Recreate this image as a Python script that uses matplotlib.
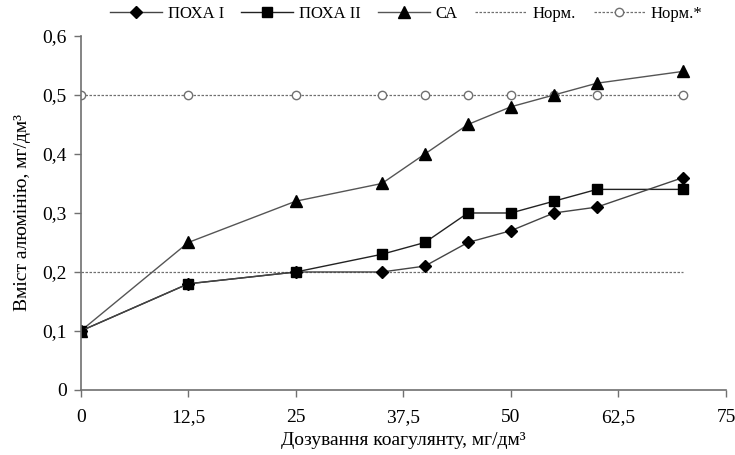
import matplotlib
matplotlib.use('Agg')
import matplotlib.pyplot as plt
from matplotlib.ticker import FuncFormatter

plt.rcParams['font.family'] = ['Liberation Serif', 'DejaVu Serif']
plt.rcParams['mathtext.fontset'] = 'stix'

# дозування коагулянту, мг/дм3
doses = [0, 12.5, 25, 35, 40, 45, 50, 55, 60, 70]
poha1 = [0.10, 0.18, 0.20, 0.20, 0.21, 0.25, 0.27, 0.30, 0.31, 0.36]
poha2 = [0.10, 0.18, 0.20, 0.23, 0.25, 0.30, 0.30, 0.32, 0.34, 0.34]
ca = [0.10, 0.25, 0.32, 0.35, 0.40, 0.45, 0.48, 0.50, 0.52, 0.54]
norm = [0.2] * len(doses)
norm_star = [0.5] * len(doses)

x_ticks = [0, 12.5, 25, 37.5, 50, 62.5, 75]
y_ticks = [0, 0.1, 0.2, 0.3, 0.4, 0.5, 0.6]

fig = plt.figure(figsize=(7.35, 4.55), dpi=100)
ax = fig.add_axes([0.1098, 0.1429, 0.878, 0.778])

ax.plot(doses, norm, color='#707070', lw=0.9, ls=(0, (2, 1.2)), label='Норм.')
ax.plot(doses, norm_star, color='#707070', lw=0.9, ls=(0, (2, 1.2)),
        marker='o', ms=6, mfc='white', mec='#707070', mew=1, label='Норм.*')
ax.plot(doses, ca, color='#555555', lw=1, marker='^', ms=8.5,
        mfc='black', mec='black', label='СА')
ax.plot(doses, poha2, color='#222222', lw=1, marker='s', ms=6.5,
        mfc='black', mec='black', label='ПОХА ІІ')
ax.plot(doses, poha1, color='#444444', lw=1, marker='D', ms=6.5,
        mfc='black', mec='black', label='ПОХА І')

ax.set_xlim(0, 75)
ax.set_ylim(0, 0.6)
ax.set_xticks(x_ticks)
ax.set_yticks(y_ticks)
ax.xaxis.set_major_formatter(FuncFormatter(lambda v, p: ('%g' % v).replace('.', ',')))
ax.yaxis.set_major_formatter(FuncFormatter(lambda v, p: ('%g' % v).replace('.', ',')))

for s in ['top', 'right']:
    ax.spines[s].set_visible(False)
for s in ['left', 'bottom']:
    ax.spines[s].set_color('#707070')
    ax.spines[s].set_linewidth(1.2)
ax.tick_params(direction='out', length=5, width=1, color='#707070',
               labelsize=14)
ax.tick_params(axis='x', pad=9)
ax.tick_params(axis='y', pad=5)

ax.set_xlabel('Дозування коагулянту, мг/дм³', fontsize=14, labelpad=4)
ax.set_ylabel('Вміст алюмінію, мг/дм³', fontsize=14, labelpad=8)

h, l = ax.get_legend_handles_labels()
order = [4, 3, 2, 0, 1]
fig.legend([h[i] for i in order], [l[i] for i in order], loc='center left',
           bbox_to_anchor=(110 / 735, 1 - 14 / 455), ncol=5, frameon=False,
           fontsize=12, handlelength=3.1, columnspacing=1.05, handletextpad=0.35,
           borderpad=0, borderaxespad=0)

fig.savefig('out.png', dpi=100)
